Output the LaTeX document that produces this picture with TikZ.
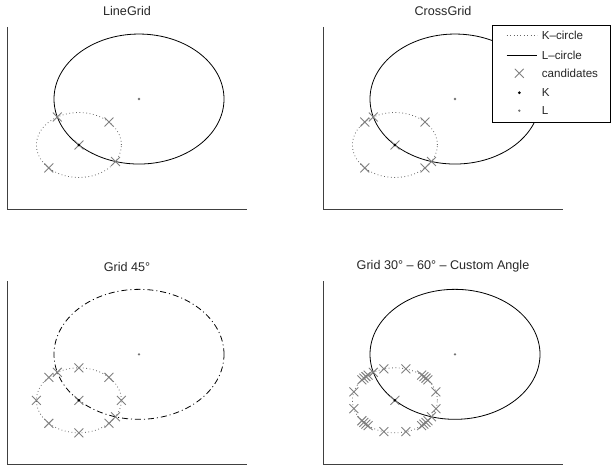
\documentclass[tikz,border=0pt]{standalone}
\usepackage{fontspec}
\setmainfont{Liberation Sans}
\usetikzlibrary{shapes.misc}
\begin{document}
\begin{tikzpicture}[x=1pt,y=-1pt,
 axisline/.style={draw=black!75, line width=0.9pt},
 lcircle/.style={draw=black, line width=0.8pt},
 lcircledd/.style={draw=black, line width=0.8pt, dash pattern=on 6pt off 3pt on 1pt off 3pt},
 kcircle/.style={draw=black!60, line width=0.8pt, dash pattern=on 0.8pt off 2.6pt},
 cand/.style={cross out, draw=black!50, line width=0.9pt, minimum size=8pt, inner sep=0pt},
 kdot/.style={circle, fill=black, inner sep=0pt, minimum size=3pt},
 ldot/.style={circle, fill=black!55, inner sep=0pt, minimum size=2.6pt},
 ttl/.style={font=\fontsize{12.6}{14}\selectfont, text=black!85},
 leg/.style={font=\fontsize{11.6}{13}\selectfont, text=black!85, anchor=west, inner sep=0pt},
]
\useasboundingbox (0,0) rectangle (611,468);

% ---------- axes and titles ----------
\draw[axisline] (7,27) -- (7,209) -- (247,209);
\draw[axisline] (323,27) -- (323,209) -- (563,209);
\draw[axisline] (7,281) -- (7,464) -- (247,464);
\draw[axisline] (323,281) -- (323,464) -- (563,464);
\node[ttl] (t1) at (127,11) {LineGrid};
\node[ttl] (t2) at (443,11) {CrossGrid};
\node[ttl] (t3) at (127,266.5) {Grid 45°};
\node[ttl] (t4) at (443,266.5) {Grid 30° – 60° – Custom Angle};

% ---------- panel 1: LineGrid ----------
\begin{scope}[shift={(78.9,145)}, x=42.5pt, y=32.5pt]
 \coordinate (K1) at (0,0);
 \coordinate (L1) at (1.41421,1.41421);
 \draw[kcircle] (K1) ellipse [x radius=1, y radius=1];
 \draw[lcircle] (L1) ellipse [x radius=2, y radius=2];
 \foreach \a [count=\i] in {45,225,120.52,-30.52} \node[cand] (pa\i) at (\a:1) {};
 \node[cand] (pa0) at (K1) {};
 \node[kdot] (kd1) at (K1) {};
 \node[ldot] (ld1) at (L1) {};
\end{scope}

% ---------- panel 2: CrossGrid ----------
\begin{scope}[shift={(394.9,145)}, x=42.5pt, y=32.5pt]
 \coordinate (K2) at (0,0);
 \coordinate (L2) at (1.41421,1.41421);
 \draw[kcircle] (K2) ellipse [x radius=1, y radius=1];
 \draw[lcircle] (L2) ellipse [x radius=2, y radius=2];
 \foreach \a [count=\i] in {45,135,225,315,120.52,-30.52} \node[cand] (pb\i) at (\a:1) {};
 \node[cand] (pb0) at (K2) {};
 \node[kdot] (kd2) at (K2) {};
 \node[ldot] (ld2) at (L2) {};
\end{scope}

% ---------- panel 3: Grid 45 ----------
\begin{scope}[shift={(78.9,400.3)}, x=42.5pt, y=32.5pt]
 \coordinate (K3) at (0,0);
 \coordinate (L3) at (1.41421,1.41421);
 \draw[kcircle] (K3) ellipse [x radius=1, y radius=1];
 \draw[lcircledd] (L3) ellipse [x radius=2, y radius=2];
 \foreach \a [count=\i] in {0,45,90,135,180,225,270,315,120.52,-30.52} \node[cand] (pc\i) at (\a:1) {};
 \node[cand] (pc0) at (K3) {};
 \node[kdot] (kd3) at (K3) {};
 \node[ldot] (ld3) at (L3) {};
\end{scope}

% ---------- panel 4: Grid 30-60 custom ----------
\begin{scope}[shift={(394.9,400.3)}, x=42.5pt, y=32.5pt]
 \coordinate (K4) at (0,0);
 \coordinate (L4) at (1.41421,1.41421);
 \draw[kcircle] (K4) ellipse [x radius=1, y radius=1];
 \draw[lcircle] (L4) ellipse [x radius=2, y radius=2];
 \foreach \a [count=\i] in {15,75,105,165,195,255,285,345,
   39,43,47,51, 129,133,137,141, 219,223,227,231, 309,313,317,321,
   120.52,-30.52} \node[cand] (pd\i) at (\a:1) {};
 \node[cand] (pd0) at (K4) {};
 \node[kdot] (kd4) at (K4) {};
 \node[ldot] (ld4) at (L4) {};
\end{scope}

% ---------- legend ----------
\node[draw=black, line width=0.8pt, fill=white, minimum width=118.5pt, minimum height=97pt,
      anchor=north west, inner sep=0pt] (legbox) at (491.5,25) {};
\coordinate (la1) at (506.7,35.7); \coordinate (lb1) at (537.3,35.7);
\coordinate (la2) at (506.7,55);   \coordinate (lb2) at (537.3,55);
\draw[kcircle] (la1) -- (lb1);
\draw[lcircle] (la2) -- (lb2);
\node[cand] (lgc) at (519.3,73.3) {};
\node[kdot] (lgk) at (519.3,92.7) {};
\node[ldot] (lgl) at (519.3,110.7) {};
\node[leg] (tx1) at (541.7,35.7) {K–circle};
\node[leg] (tx2) at (541.7,55) {L–circle};
\node[leg] (tx3) at (541.7,73.3) {candidates};
\node[leg] (tx4) at (541.7,92.7) {K};
\node[leg] (tx5) at (541.7,110.7) {L};
\end{tikzpicture}
\end{document}
